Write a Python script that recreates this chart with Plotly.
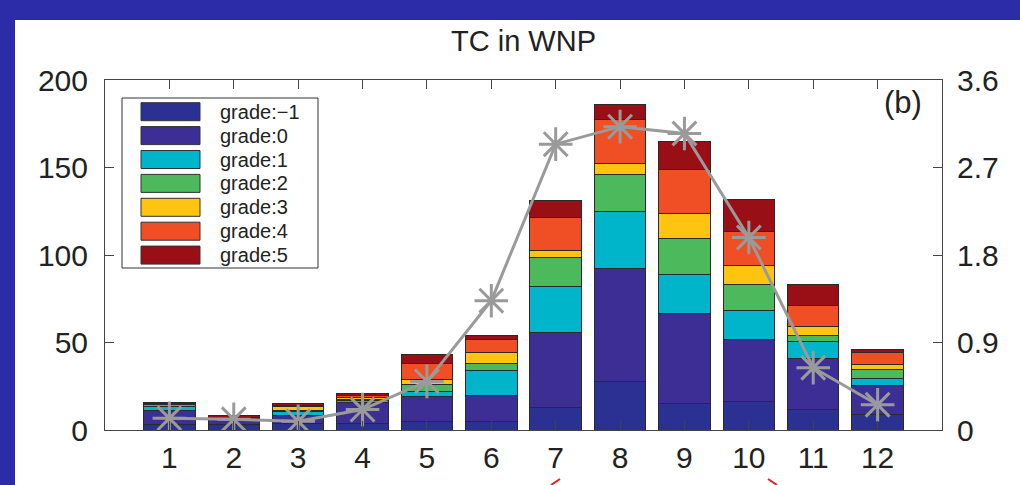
import plotly.graph_objects as go

months = [1, 2, 3, 4, 5, 6, 7, 8, 9, 10, 11, 12]
tick_labels = ["1", "2", "3", "4", "5", "6", "7", "8", "9", "10", "11", "12"]

grade_m1 = [3.0, 3.0, 3.5, 4.0, 5.0, 5.0, 12.8, 27.8, 15.3, 16.3, 11.5, 9.0]
grade_0 = [8.0, 3.5, 4.7, 11.5, 14.0, 15.0, 43.1, 64.6, 51.2, 35.4, 29.1, 16.3]
grade_1 = [2.5, 0.0, 2.3, 1.2, 3.2, 14.0, 26.1, 32.7, 22.5, 16.7, 9.8, 4.4]
grade_2 = [1.0, 0.0, 0.5, 1.0, 4.0, 4.0, 16.3, 20.9, 20.3, 14.5, 3.8, 4.8]
grade_3 = [0.0, 0.0, 2.4, 0.6, 2.8, 6.5, 4.2, 6.3, 14.5, 11.0, 4.8, 2.9]
grade_4 = [0.5, 0.5, 0.8, 1.5, 8.8, 7.0, 19.1, 24.9, 25.3, 19.7, 12.3, 7.0]
grade_5 = [1.0, 1.5, 0.8, 1.2, 5.2, 2.5, 9.6, 8.6, 15.9, 18.2, 11.6, 1.6]

line_values = [0.12, 0.11, 0.09, 0.21, 0.50, 1.33, 2.94, 3.12, 3.05, 1.98, 0.64, 0.26]

series_names = ["grade:−1", "grade:0", "grade:1", "grade:2", "grade:3", "grade:4", "grade:5"]
series_values = [grade_m1, grade_0, grade_1, grade_2, grade_3, grade_4, grade_5]
series_colors = ["#2b3192", "#3d2e96", "#00b5c9", "#4cb95c", "#ffc40f", "#f04e24", "#9a0f15"]

FONT = "Liberation Sans, Arial, Helvetica, sans-serif"
TXT = "#222222"

fig = go.Figure()
for name, vals, col in zip(series_names, series_values, series_colors):
    fig.add_trace(go.Bar(
        x=months, y=vals, name=name, width=0.8,
        marker=dict(color=col, line=dict(color="#2a2a2a", width=1)),
        showlegend=False,
    ))

fig.add_trace(go.Scatter(
    x=months, y=line_values, yaxis="y2", mode="lines+markers",
    line=dict(color="#9a9a9a", width=3),
    marker=dict(symbol="asterisk-open", size=28, color="#9a9a9a",
                line=dict(color="#9a9a9a", width=3)),
    showlegend=False,
))

# plot area in pixels: x 105..942, y 80..430
L, R, T, B = 105, 942, 80, 430
W, H = 1020, 485
pw, ph = R - L, B - T

def px(xp):
    return (xp - L) / pw

def py(yp):
    return (B - yp) / ph

shapes = [
    dict(type="rect", xref="paper", yref="paper", layer="below",
         x0=px(15), x1=px(1040), y0=py(530), y1=py(20),
         fillcolor="white", line=dict(width=0)),
    # legend box
    dict(type="rect", xref="paper", yref="paper",
         x0=px(122), x1=px(318), y0=py(268), y1=py(98),
         fillcolor="white", line=dict(color="#333333", width=1)),
]
annotations = []
for i, (name, col) in enumerate(zip(series_names, series_colors)):
    yc = 111.7 + i * 23.9
    shapes.append(dict(type="rect", xref="paper", yref="paper",
                       x0=px(141), x1=px(200), y0=py(yc + 9), y1=py(yc - 9),
                       fillcolor=col, line=dict(color="#333333", width=1)))
    annotations.append(dict(xref="paper", yref="paper", x=px(218), y=py(yc),
                            xanchor="left", yanchor="middle", showarrow=False,
                            text=name, font=dict(family=FONT, size=20, color=TXT)))

# small red slide marks at the bottom edge
for (xa, xb) in [(560, 551), (768, 777)]:
    shapes.append(dict(type="line", xref="paper", yref="paper",
                       x0=px(xa), x1=px(xb), y0=py(479), y1=py(485),
                       line=dict(color="#e02020", width=2)))

annotations.append(dict(xref="paper", yref="paper", x=px(903), y=py(102),
                        xanchor="center", yanchor="middle", showarrow=False,
                        text="(b)", font=dict(family=FONT, size=31, color=TXT)))

fig.update_layout(
    width=W, height=H,
    margin=dict(l=L, r=W - R, t=T, b=H - B, pad=0, autoexpand=False),
    paper_bgcolor="#2c2ca8",
    plot_bgcolor="white",
    barmode="stack",
    bargap=0.2,
    title=dict(text="TC in WNP", x=0.5, xref="paper", xanchor="center",
               y=1 - 41 / H, yref="container", yanchor="middle", automargin=False,
               font=dict(family=FONT, size=29, color=TXT)),
    font=dict(family=FONT, color=TXT),
    xaxis=dict(range=[0, 13], tickmode="array", tickvals=months, ticktext=tick_labels,
               ticks="inside", ticklen=9, tickcolor="#444444", showline=True,
               linecolor="#444444", linewidth=1, mirror="ticks", showgrid=False,
               zeroline=False, tickfont=dict(family=FONT, size=30, color=TXT),
               ticklabelstandoff=1, automargin=False),
    yaxis=dict(range=[0, 200], tickvals=[0, 50, 100, 150, 200],
               ticks="inside", ticklen=9, tickcolor="#444444", showline=True,
               linecolor="#444444", linewidth=1, mirror=True, showgrid=False,
               zeroline=False, tickfont=dict(family=FONT, size=30, color=TXT),
               ticklabelstandoff=10, automargin=False),
    yaxis2=dict(range=[0, 3.6], tickvals=[0, 0.9, 1.8, 2.7, 3.6],
                ticktext=["0", "0.9", "1.8", "2.7", "3.6"],
                overlaying="y", side="right", ticks="inside", ticklen=9,
                tickcolor="#444444", showline=True, linecolor="#444444",
                linewidth=1, showgrid=False, zeroline=False,
                tickfont=dict(family=FONT, size=30, color=TXT),
                ticklabelstandoff=8, automargin=False),
    shapes=shapes,
    annotations=annotations,
)

fig.write_html("out.html",
               config={"displayModeBar": False},
               post_script="document.body.style.margin='0';document.body.style.overflow='hidden';document.body.style.background='white';")
